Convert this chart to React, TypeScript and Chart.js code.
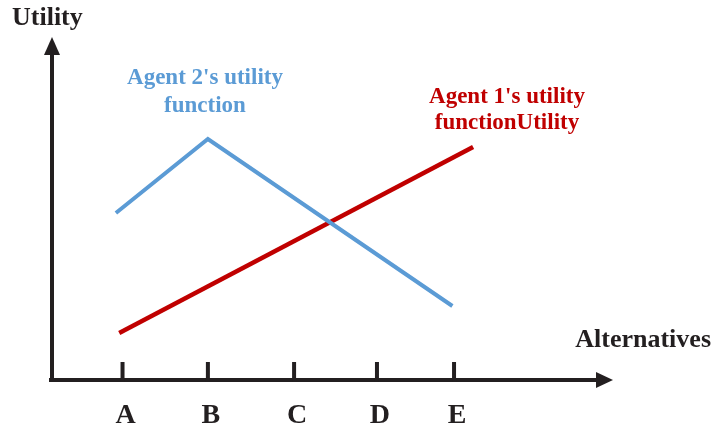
import React, { useEffect, useRef } from "react";
import { Chart, registerables } from "chart.js";

Chart.register(...registerables);

// Alternatives along the x axis and their positions
const alternatives = ["A", "B", "C", "D", "E"];
const alternativePos = [1.0, 2.03, 3.07, 4.07, 5.0];

// Agent 2's utility (blue): x positions and utility values
const agent2X = [0.92, 2.03, 4.98];
const agent2Y = [16.7, 24.1, 7.4];

// Agent 1's utility (red)
const agent1X = [0.96, 5.23];
const agent1Y = [4.7, 23.3];

const agent2Label = ["Agent 2's utility", "function"];
const agent1Label = ["Agent 1's utility", "functionUtility"];
const yTitle = "Utility";
const xTitle = "Alternatives";

const AXIS = "#231f20";
const BLUE = "#5b9bd5";
const RED = "#c00000";
const FONT = "'Liberation Serif', 'Times New Roman', serif";

const decorPlugin = {
  id: "decor",
  beforeDatasetsDraw(chart: any) {
    const { ctx, chartArea } = chart;
    const xs = chart.scales.x;
    const left = chartArea.left;
    const bottom = chartArea.bottom;
    ctx.save();
    ctx.strokeStyle = AXIS;
    ctx.fillStyle = AXIS;
    ctx.lineWidth = 4;
    ctx.lineCap = "butt";
    // y axis
    ctx.beginPath();
    ctx.moveTo(left, bottom + 2);
    ctx.lineTo(left, chartArea.top + 24);
    ctx.stroke();
    ctx.beginPath();
    ctx.moveTo(left, chartArea.top + 7);
    ctx.lineTo(left - 8, chartArea.top + 25);
    ctx.lineTo(left + 8, chartArea.top + 25);
    ctx.closePath();
    ctx.fill();
    // x axis
    ctx.beginPath();
    ctx.moveTo(left - 3, bottom);
    ctx.lineTo(chartArea.right - 14, bottom);
    ctx.stroke();
    ctx.beginPath();
    ctx.moveTo(chartArea.right, bottom);
    ctx.lineTo(chartArea.right - 17, bottom - 8);
    ctx.lineTo(chartArea.right - 17, bottom + 8);
    ctx.closePath();
    ctx.fill();
    // tick marks
    ctx.lineWidth = 4;
    alternativePos.forEach((v) => {
      const px = xs.getPixelForValue(v);
      ctx.beginPath();
      ctx.moveTo(px, bottom + 2);
      ctx.lineTo(px, bottom - 18);
      ctx.stroke();
    });
    ctx.restore();
  },
  afterDraw(chart: any) {
    const { ctx, chartArea } = chart;
    const xs = chart.scales.x;
    ctx.save();
    ctx.fillStyle = AXIS;
    ctx.textBaseline = "alphabetic";
    // tick labels
    ctx.font = `bold 28px ${FONT}`;
    ctx.textAlign = "center";
    alternatives.forEach((lab, i) => {
      const px = xs.getPixelForValue(alternativePos[i]);
      ctx.fillText(lab, px + 3, chartArea.bottom + 43);
    });
    // axis titles
    ctx.font = `bold 26px ${FONT}`;
    ctx.textAlign = "left";
    ctx.fillText(yTitle, 12, 25);
    ctx.textAlign = "right";
    ctx.fillText(xTitle, 711, 347);
    // series annotations
    ctx.font = `bold 23px ${FONT}`;
    ctx.textAlign = "center";
    ctx.fillStyle = BLUE;
    ctx.fillText(agent2Label[0], 205, 84);
    ctx.fillText(agent2Label[1], 205, 112);
    ctx.fillStyle = RED;
    ctx.fillText(agent1Label[0], 507, 103);
    ctx.fillText(agent1Label[1], 507, 129);
    ctx.restore();
  },
};

export default function App() {
  const ref = useRef<HTMLCanvasElement | null>(null);
  useEffect(() => {
    if (!ref.current) return;
    const chart = new Chart(ref.current, {
      type: "line",
      data: {
        datasets: [
          {
            label: "Agent 2",
            data: agent2X.map((x, i) => ({ x, y: agent2Y[i] })),
            borderColor: BLUE,
            borderWidth: 4,
            pointRadius: 0,
            borderCapStyle: "butt",
            borderJoinStyle: "miter",
            tension: 0,
          },
          {
            label: "Agent 1",
            data: agent1X.map((x, i) => ({ x, y: agent1Y[i] })),
            borderColor: RED,
            borderWidth: 4.5,
            pointRadius: 0,
            borderCapStyle: "butt",
            tension: 0,
          },
        ],
      },
      options: {
        responsive: false,
        animation: false,
        devicePixelRatio: 1,
        layout: { padding: { left: 52, right: 100, top: 30, bottom: 50 } },
        plugins: { legend: { display: false }, tooltip: { enabled: false } },
        scales: {
          x: { type: "linear", min: 0.149, max: 6.918, display: false },
          y: { type: "linear", min: 0, max: 35, display: false },
        },
      },
      plugins: [decorPlugin],
    } as any);
    return () => chart.destroy();
  }, []);
  return (
    <div style={{ position: "absolute", left: 0, top: 0, width: 713, height: 430, background: "#fff" }}>
      <canvas ref={ref} width={713} height={430} />
    </div>
  );
}
